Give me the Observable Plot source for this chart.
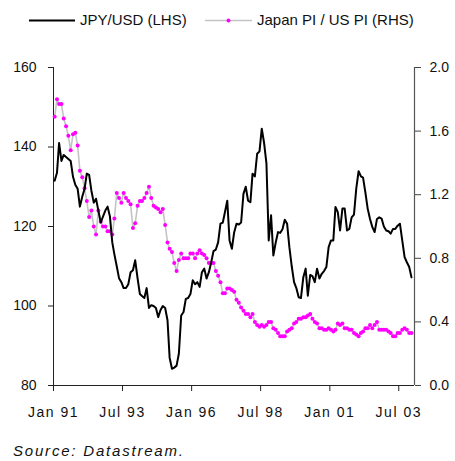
<!DOCTYPE html>
<html>
<head>
<meta charset="utf-8">
<script src="https://cdn.jsdelivr.net/npm/d3@7"></script>
<script src="https://cdn.jsdelivr.net/npm/@observablehq/plot@0.6"></script>
<style>
  html, body { margin: 0; padding: 0; background: #fff; }
  body { width: 455px; height: 461px; position: relative; overflow: hidden; font-family: "Liberation Sans", Arial, sans-serif; color: #111; }
  #legend { position: relative; height: 40px; font-size: 15px; }
  #legend .item { position: absolute; top: 11px; white-space: nowrap; }
  #legend svg { position: absolute; top: 0; }
  #chart svg { display: block; }
  #chart g[aria-label="x-axis tick label"] text { letter-spacing: 1.5px; }
  #caption { position: absolute; left: 13px; top: 442px; font-size: 15px; font-style: italic; letter-spacing: 1.8px; }
</style>
</head>
<body>
<div id="legend"></div>
<div id="chart"></div>
<div id="caption"></div>
<script>
// ---- data (monthly, Jan 1991 - Dec 2003) ----
const startYear = 1991;
const jpyUsd = [
  131.5, 133.5, 141, 136.5, 138, 137.5, 137, 136.5, 132.5, 130.5, 129.5, 125,
  127.5, 129.5, 133.3, 133, 129, 126, 127, 124, 121, 122.5, 124, 125,
  122.5, 116, 113, 110, 107, 106, 104.5, 104.5, 105.5, 108.5, 109, 111.5,
  107, 103, 102.5, 102, 104.5, 99.5, 100.2, 100, 99.5, 97.2, 99, 100,
  99.5, 96.4, 87, 84.2, 84.5, 85, 88, 97.6, 98.5, 101.8, 102, 103,
  106.5, 105.5, 106, 104.8, 108.5, 109.4, 106.9, 108.5, 111, 113.8, 114.2, 116,
  120.7, 121, 123.6, 126.5, 116.5, 114.4, 118.5, 120.7, 120.5, 121, 128.2, 130,
  126.5, 126.1, 133.3, 132.6, 138.3, 138.9, 144.6, 141, 135.8, 116.5, 122.8, 112.7,
  115.9, 118.6, 118.4, 119.3, 121.7, 120.7, 114.8, 110, 106, 104.5, 102.2, 102,
  107.2, 109.4, 102.6, 107.8, 107.5, 106, 109.4, 106.9, 108.1, 108.8, 109.8, 114.8,
  116.5, 116.5, 124.9, 123.6, 119, 124.5, 124.5, 119, 119.4, 122.3, 123, 129.5,
  133.9, 132.6, 132.3, 128.5, 124.5, 121.9, 119.9, 118.6, 121.9, 122.3, 122, 120,
  119, 118.8, 118.2, 119.4, 119.4, 120.2, 120.7, 116.5, 112.3, 111, 109.8, 107.2
];
const priceRatio = [
  1.69, 1.80, 1.77, 1.77, 1.68, 1.63, 1.57, 1.48, 1.58, 1.59, 1.51, 1.35,
  1.31, 1.24, 1.16, 1.06, 1.10, 1.00, 0.95, 1.10, 1.03, 1.00, 1.00, 0.97,
  0.97, 0.95, 1.05, 1.21, 1.18, 1.15, 1.21, 1.18, 1.16, 1.14, 0.99, 1.02,
  1.13, 1.16, 1.16, 1.18, 1.21, 1.25, 1.18, 1.13, 1.12, 1.11, 1.09, 1.11,
  1.01, 0.90, 0.86, 0.84, 0.77, 0.72, 0.79, 0.83, 0.80, 0.80, 0.80, 0.83,
  0.83, 0.80, 0.83, 0.85, 0.83, 0.82, 0.80, 0.77, 0.77, 0.77, 0.72, 0.69,
  0.65, 0.58, 0.58, 0.61, 0.61, 0.60, 0.59, 0.54, 0.52, 0.49, 0.47, 0.45,
  0.45, 0.43, 0.45, 0.40, 0.38, 0.37, 0.38, 0.37, 0.38, 0.40, 0.40, 0.36,
  0.35, 0.33, 0.31, 0.31, 0.31, 0.34, 0.35, 0.36, 0.39, 0.40, 0.42, 0.42,
  0.43, 0.43, 0.44, 0.45, 0.42, 0.40, 0.39, 0.36, 0.36, 0.35, 0.35, 0.36,
  0.35, 0.34, 0.35, 0.39, 0.38, 0.39, 0.36, 0.36, 0.35, 0.35, 0.33, 0.32,
  0.31, 0.33, 0.34, 0.36, 0.36, 0.38, 0.36, 0.38, 0.40, 0.35, 0.35, 0.35,
  0.35, 0.34, 0.33, 0.31, 0.31, 0.33, 0.33, 0.35, 0.36, 0.35, 0.33, 0.33
];
const leftTicks = [80, 100, 120, 140, 160];
const rightTicks = [0.0, 0.4, 0.8, 1.2, 1.6, 2.0];
const xTickDates = [[1991, 0], [1993, 6], [1996, 0], [1998, 6], [2001, 0], [2003, 6]];
const xTickLabels = ["Jan 91", "Jul 93", "Jan 96", "Jul 98", "Jan 01", "Jul 03"];
const seriesNames = ["JPY/USD (LHS)", "Japan PI / US PI (RHS)"];
const sourceText = "Source: Datastream.";

// ---- build ----
const data = jpyUsd.map((v, i) => ({
  date: new Date(Date.UTC(startYear, i, 16)),
  jpy: v,
  ratio: priceRatio[i]
}));
// right axis (0..2) laid onto left axis (80..160)
const toLeft = r => 80 + r * 40;
const xTicks = xTickDates.map(([y, m]) => new Date(Date.UTC(y, m, 1)));
const labelOf = new Map(xTicks.map((d, i) => [+d, xTickLabels[i]]));
const x0 = new Date(Date.UTC(1991, 0, 1));
const x1 = new Date(Date.UTC(2004, 0, 25));

const chart = Plot.plot({
  width: 455,
  height: 395,
  marginTop: 27,
  marginBottom: 50,
  marginLeft: 53,
  marginRight: 41,
  x: { type: "utc", domain: [x0, x1] },
  y: { domain: [80, 160] },
  style: { fontFamily: '"Liberation Sans", Arial, sans-serif', fontSize: "14px", color: "#111", background: "#fff", overflow: "visible" },
  marks: [
    Plot.axisY(leftTicks, { anchor: "left", tickSize: 5, tickPadding: 12, label: null, tickFormat: d => String(d), stroke: "#222" }),
    Plot.axisY(rightTicks.map(toLeft), { anchor: "right", tickSize: 6, tickPadding: 9, label: null, tickFormat: d => ((d - 80) / 40).toFixed(1), stroke: "#444" }),
    Plot.axisX(xTicks, { anchor: "bottom", tickSize: 6, tickPadding: 16, label: null, tickFormat: d => labelOf.get(+d), stroke: "#222" }),
    Plot.ruleX([x0], { stroke: "#222", strokeWidth: 1 }),
    Plot.ruleX([x1], { stroke: "#555", strokeWidth: 1.2 }),
    Plot.ruleY([80], { stroke: "#222", strokeWidth: 1 }),
    Plot.line(data, { x: "date", y: d => toLeft(d.ratio), stroke: "#c4c4c4", strokeWidth: 1.6 }),
    Plot.dot(data, { x: "date", y: d => toLeft(d.ratio), r: 2, fill: "#ff00ff", stroke: "none" }),
    Plot.line(data, { x: "date", y: "jpy", stroke: "#000", strokeWidth: 2 })
  ]
});
document.getElementById("chart").appendChild(chart);

// ---- legend ----
const legend = document.getElementById("legend");
legend.innerHTML = `
  <svg width="455" height="40" style="left:0">
    <line x1="29" y1="20.5" x2="75" y2="20.5" stroke="#000" stroke-width="2"/>
    <line x1="205" y1="20.5" x2="252" y2="20.5" stroke="#c4c4c4" stroke-width="1.6"/>
    <circle cx="228.5" cy="20.5" r="2" fill="#ff00ff"/>
  </svg>
  <span class="item" style="left:80px">${seriesNames[0]}</span>
  <span class="item" style="left:257px">${seriesNames[1]}</span>`;
document.getElementById("caption").textContent = sourceText;
</script>
</body>
</html>
